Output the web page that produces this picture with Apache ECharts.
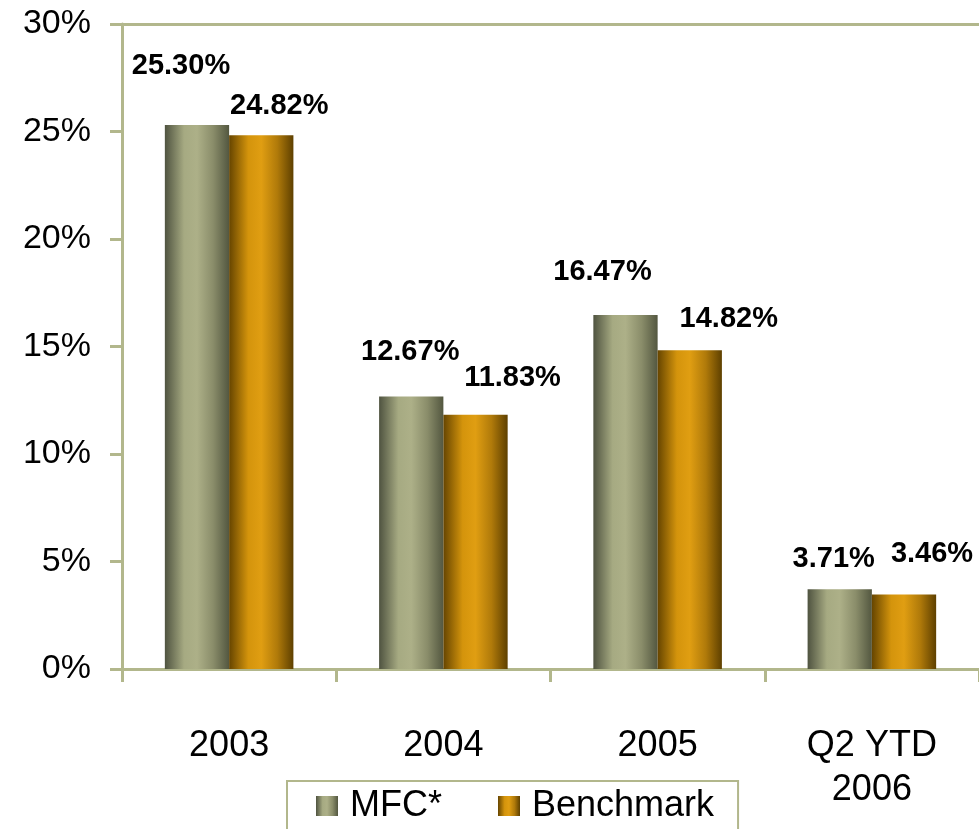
<!DOCTYPE html>
<html>
<head>
<meta charset="utf-8">
<script src="https://cdn.jsdelivr.net/npm/echarts@6/dist/echarts.min.js"></script>
<style>
html,body{margin:0;padding:0;background:#fff;}
#chart{width:979px;height:829px;}
</style>
</head>
<body>
<div id="chart"></div>
<script>
const categories = ['2003', '2004', '2005', 'Q2 YTD\n2006'];
const mfcValues = [25.30, 12.67, 16.47, 3.71];
const benchmarkValues = [24.82, 11.83, 14.82, 3.46];
const seriesNames = ['MFC*', 'Benchmark'];

const FONT = 'Liberation Sans, Arial, sans-serif';
const axisColor = '#b2b78c';
const mfcGrad = new echarts.graphic.LinearGradient(0, 0, 1, 0, [
  {offset: 0, color: '#4f5340'},
  {offset: 0.3, color: '#a6aa82'},
  {offset: 0.5, color: '#adb088'},
  {offset: 0.75, color: '#8a8d6a'},
  {offset: 1, color: '#535740'}
]);
const benchGrad = new echarts.graphic.LinearGradient(0, 0, 1, 0, [
  {offset: 0, color: '#664500'},
  {offset: 0.3, color: '#d4940c'},
  {offset: 0.5, color: '#e09e12'},
  {offset: 0.75, color: '#b07a0a'},
  {offset: 1, color: '#5e4000'}
]);
// label offsets (style only)
const mfcLabelOffsets = [[-16, -40], [-1, -25], [-23, -23], [-6, -11]];
const benchLabelOffsets = [[18, -10], [37, -17], [39, -12], [28, -21]];

const labelStyle = {
  show: true, position: 'top', distance: 5,
  fontFamily: FONT, fontSize: 29, fontWeight: 'bold', color: '#000',
  formatter: p => p.value.toFixed(2) + '%'
};

function buildData(values, offsets) {
  return values.map((v, i) => ({value: v, label: {offset: offsets[i]}}));
}

const chart = echarts.init(document.getElementById('chart'));
chart.setOption({
  animation: false,
  backgroundColor: '#fff',
  grid: {left: 122, right: -7, top: 24, bottom: 160, containLabel: false},
  legend: {
    top: 781, left: 287,
    data: seriesNames,
    icon: 'rect',
    itemWidth: 22, itemHeight: 20, itemGap: 56,
    padding: [7, 24, 40, 29],
    borderColor: axisColor, borderWidth: 2,
    textStyle: {fontFamily: FONT, fontSize: 36, color: '#000', padding: [0, 0, 0, 7]}
  },
  xAxis: [{
    type: 'category', data: categories,
    axisLine: {show: true, lineStyle: {color: axisColor, width: 3}},
    axisTick: {show: true, length: 13, lineStyle: {color: axisColor, width: 3}},
    axisLabel: {fontFamily: FONT, fontSize: 36, color: '#000', margin: 55, lineHeight: 44}
  }, {
    type: 'category', data: categories, position: 'top',
    axisLine: {show: true, lineStyle: {color: axisColor, width: 3}},
    axisTick: {show: false}, axisLabel: {show: false}
  }],
  yAxis: {
    type: 'value', min: 0, max: 30, interval: 5,
    axisLine: {show: true, lineStyle: {color: axisColor, width: 3}},
    axisTick: {show: true, length: 12, lineStyle: {color: axisColor, width: 3}},
    splitLine: {show: false},
    axisLabel: {fontFamily: FONT, fontSize: 34, color: '#000', margin: 31, formatter: v => v + '%'}
  },
  series: [{
    name: seriesNames[0], type: 'bar', barWidth: '30%', barGap: '0%',
    itemStyle: {color: mfcGrad},
    label: labelStyle,
    data: buildData(mfcValues, mfcLabelOffsets)
  }, {
    name: seriesNames[1], type: 'bar', barWidth: '30%', barGap: '0%',
    itemStyle: {color: benchGrad},
    label: labelStyle,
    data: buildData(benchmarkValues, benchLabelOffsets)
  }]
});
</script>
</body>
</html>
